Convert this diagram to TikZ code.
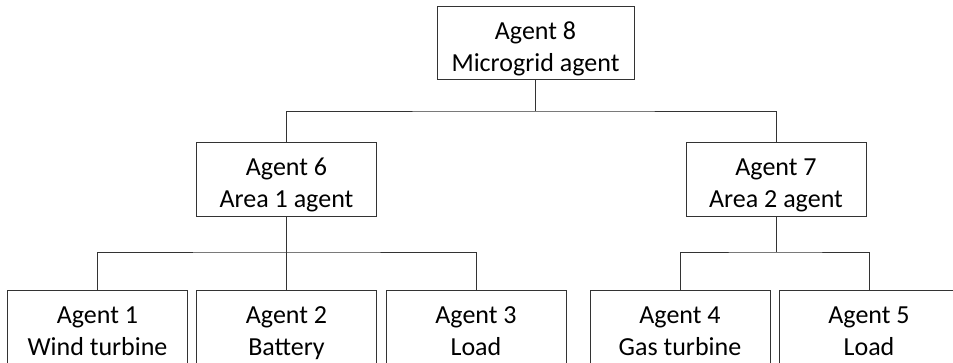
\documentclass[tikz,border=0pt]{standalone}
\usepackage{fontspec}
\setmainfont{Carlito}
\usetikzlibrary{positioning}

\begin{document}
\begin{tikzpicture}[x=1pt,y=-1pt,
             agent/.style={draw=black!80, line width=1pt, fill=white, align=center,
             minimum width=180pt, minimum height=74pt, inner sep=0pt,
             font=\fontsize{26}{32}\selectfont, text height=65pt, text depth=8pt},
             link/.style={draw=black!80, line width=1pt},
          ]
          \useasboundingbox (0,0) rectangle (953,362);
          \clip (0,0) rectangle (953,362);

          \node at (535.5,42.5) (a8) [agent, minimum width=197pt, minimum height=73pt] {Agent 8\\Microgrid agent};
          \node at (286.5,179) (a6) [agent]  {Agent 6\\Area 1 agent};
          \node at (776,179) (a7) [agent]  {Agent 7\\Area 2 agent};
          \node at (97.5,327) (a1) [agent]  {Agent 1\\Wind turbine};
          \node at (286.5,327) (a2) [agent]  {Agent 2\\Battery};
          \node at (476,327) (a3) [agent]  {Agent 3\\Load};
          \node at (680,327) (a4) [agent]  {Agent 4\\Gas turbine};
          \node at (869,327) (a5) [agent]  {Agent 5\\Load};

          \coordinate (bus8) at (535.5,111);
          \coordinate (bus6) at (286.5,252);
          \coordinate (bus7) at (776,252);

          \draw[link] (a8.south) -- (bus8) ;
          \draw[link] (a6.north) |- (bus8) -| (a7.north) ;
          \draw[link] (a6.south) -- (bus6) ;
          \draw[link] (a1.north) |- (bus6) -| (a3.north) ;
          \draw[link] (bus6) -- (a2.north) ;
          \draw[link] (a7.south) -- (bus7) ;
          \draw[link] (a4.north) |- (bus7) -| (a5.north) ;

       \end{tikzpicture}
\end{document}
